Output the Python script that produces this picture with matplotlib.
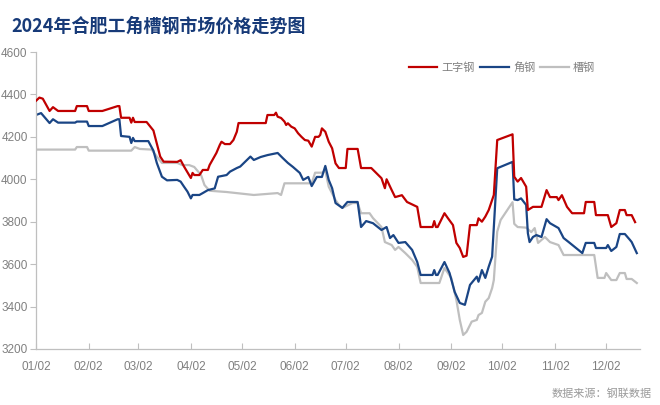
import matplotlib
matplotlib.use("Agg")
import matplotlib.pyplot as plt
import matplotlib.dates as mdates
import pandas as pd

plt.rcParams['font.family'] = ['Noto Sans CJK SC', 'DejaVu Sans']

YEAR = "2024-"

red_dates = ["01-02","01-04","01-06","01-10","01-12","01-15","01-25","01-26","02-01","02-02","02-10","02-19","02-20","02-21","02-26","02-27","02-28","02-29","03-07","03-11","03-15","03-17","03-25","03-27","03-29","04-02","04-03","04-04","04-07","04-09","04-12","04-13","04-17","04-19","04-20","04-22","04-25","04-27","04-29","04-30","05-16","05-17","05-21","05-22","05-23","05-25","05-27","05-28","05-29","05-31","06-02","06-04","06-06","06-08","06-10","06-12","06-14","06-16","06-17","06-18","06-20","06-22","06-24","06-26","06-28","07-02","07-03","07-09","07-11","07-17","07-23","07-25","07-26","07-29","07-31","08-04","08-07","08-13","08-15","08-22","08-23","08-24","08-25","08-29","08-31","09-03","09-05","09-07","09-09","09-11","09-13","09-17","09-18","09-20","09-22","09-24","09-27","09-29","10-08","10-09","10-11","10-13","10-16","10-17","10-20","10-25","10-28","10-30","11-03","11-04","11-06","11-09","11-12","11-19","11-20","11-25","11-26","12-03","12-05","12-08","12-10","12-13","12-14","12-17","12-19"]
red_values = [4370,4385,4380,4322,4340,4322,4322,4345,4345,4322,4322,4345,4345,4290,4290,4267,4290,4270,4270,4230,4107,4083,4082,4090,4060,4006,4030,4020,4020,4044,4044,4067,4124,4162,4177,4166,4166,4185,4224,4265,4265,4303,4303,4314,4295,4289,4272,4256,4264,4248,4240,4217,4200,4185,4182,4154,4200,4200,4209,4240,4224,4177,4146,4075,4053,4053,4143,4143,4053,4053,4005,3958,4000,3949,3916,3925,3893,3870,3775,3775,3803,3775,3775,3840,3817,3784,3700,3676,3634,3640,3784,3784,3816,3800,3824,3855,3926,4185,4212,4012,3989,4006,3965,3855,3870,3870,3949,3916,3916,3902,3925,3870,3840,3840,3893,3893,3831,3831,3775,3793,3855,3855,3831,3831,3798]

blue_dates = ["01-02","01-05","01-10","01-12","01-15","01-25","01-26","02-01","02-02","02-10","02-19","02-20","02-21","02-26","02-27","02-28","02-29","03-08","03-11","03-13","03-16","03-19","03-25","03-27","03-29","03-31","04-02","04-03","04-07","04-09","04-12","04-16","04-18","04-23","04-25","04-29","05-01","05-07","05-09","05-13","05-17","05-23","05-26","05-29","06-01","06-05","06-07","06-10","06-12","06-15","06-18","06-20","06-22","06-24","06-26","06-30","07-03","07-09","07-11","07-14","07-18","07-23","07-26","07-28","07-30","08-02","08-06","08-10","08-13","08-15","08-22","08-23","08-24","08-25","08-29","09-01","09-04","09-07","09-10","09-13","09-17","09-18","09-20","09-22","09-24","09-26","09-29","10-08","10-09","10-11","10-13","10-16","10-17","10-18","10-20","10-22","10-25","10-28","10-30","11-04","11-07","11-10","11-18","11-20","11-25","11-26","12-02","12-03","12-05","12-08","12-10","12-13","12-16","12-17","12-20"]
blue_values = [4303,4312,4265,4283,4267,4267,4272,4272,4251,4251,4283,4283,4204,4200,4171,4195,4180,4180,4135,4077,4012,3995,3997,3989,3965,3942,3910,3926,3926,3935,3949,3957,4012,4020,4036,4053,4060,4107,4091,4105,4114,4124,4100,4077,4058,4030,3997,4011,3968,4011,4011,4063,3997,3958,3888,3865,3893,3893,3775,3803,3793,3761,3775,3723,3737,3700,3704,3667,3610,3549,3549,3572,3549,3549,3610,3558,3469,3417,3408,3502,3541,3517,3572,3535,3588,3635,4052,4082,3905,3902,3910,3879,3746,3704,3728,3737,3728,3812,3793,3770,3723,3704,3652,3700,3700,3676,3676,3690,3662,3681,3742,3742,3714,3704,3652]

gray_dates = ["01-02","01-25","01-26","02-01","02-02","02-27","02-29","03-03","03-10","03-13","03-16","03-25","03-28","04-01","04-04","04-08","04-10","04-13","04-23","05-09","05-23","05-25","05-27","06-12","06-14","06-18","06-20","06-22","06-26","06-28","06-30","07-06","07-09","07-11","07-16","07-18","07-23","07-25","07-29","07-31","08-02","08-06","08-10","08-13","08-15","08-26","08-29","09-02","09-05","09-07","09-09","09-11","09-14","09-17","09-18","09-20","09-22","09-24","09-26","09-27","09-29","10-01","10-08","10-09","10-11","10-16","10-19","10-21","10-23","10-27","10-30","11-04","11-07","11-25","11-27","12-01","12-02","12-05","12-08","12-10","12-13","12-14","12-17","12-20"]
gray_values = [4140,4140,4152,4152,4135,4135,4152,4143,4140,4107,4077,4077,4067,4067,4058,4020,3973,3946,3940,3926,3935,3926,3981,3981,4031,4031,4040,3965,3902,3879,3865,3888,3888,3840,3840,3817,3775,3704,3690,3667,3681,3652,3620,3587,3511,3511,3582,3535,3431,3337,3266,3281,3329,3337,3360,3370,3423,3440,3487,3525,3753,3808,3892,3790,3775,3772,3751,3770,3700,3728,3704,3690,3643,3643,3535,3535,3558,3525,3525,3558,3558,3530,3530,3511]

series_names = ["工字钢", "角钢", "槽钢"]
series_colors = ["#c00000", "#1a4585", "#bfbfbf"]

y_ticks = [3200, 3400, 3600, 3800, 4000, 4200, 4400, 4600]
x_tick_labels = ["01/02","02/02","03/02","04/02","05/02","06/02","07/02","08/02","09/02","10/02","11/02","12/02"]

def to_dt(ds):
    return pd.to_datetime([YEAR + d for d in ds])

fig = plt.figure(figsize=(6.6, 4.05), dpi=100)
ax = fig.add_axes([0.0545, 0.1383, 0.9155, 0.7333])

data = [(red_dates, red_values), (blue_dates, blue_values), (gray_dates, gray_values)]
zs = [3, 2, 1]
for (ds, vs), name, col, z in zip(data, series_names, series_colors, zs):
    ax.plot(to_dt(ds), vs, color=col, lw=1.6, label=name, zorder=z)

ax.set_ylim(3200, 4600)
ax.set_yticks(y_ticks)
ax.set_xlim(pd.Timestamp("2024-01-02"), pd.Timestamp("2024-12-22"))
xt = pd.to_datetime([YEAR + s.replace("/", "-") for s in x_tick_labels])
ax.set_xticks(xt)
ax.set_xticklabels(x_tick_labels)

for s in ["top", "right"]:
    ax.spines[s].set_visible(False)
for s in ["left", "bottom"]:
    ax.spines[s].set_color("#bfbfbf")
    ax.spines[s].set_linewidth(0.9)

ax.tick_params(axis="y", direction="out", length=4, color="#bfbfbf", labelcolor="#808080", labelsize=8.5, pad=2)
ax.tick_params(axis="x", direction="in", length=4, color="#bfbfbf", labelcolor="#808080", labelsize=8.5, pad=9)
for lab in ax.get_xticklabels() + ax.get_yticklabels():
    lab.set_fontfamily(["Liberation Sans", "DejaVu Sans"])

leg = ax.legend(loc="upper left", bbox_to_anchor=(0.6, 1.0), ncol=3, frameon=False,
                fontsize=8, handlelength=2.6, columnspacing=0.4, handletextpad=0.4,
                labelcolor="#808080")

fig.text(0.018, 0.935, "2024年合肥工角槽钢市场价格走势图", fontsize=13, fontweight="bold",
         color="#173a78", va="center", ha="left")
fig.text(0.988, 0.028, "数据来源：钢联数据", fontsize=8, color="#9a9a9a", ha="right", va="center")

fig.savefig("out.png", dpi=100)
